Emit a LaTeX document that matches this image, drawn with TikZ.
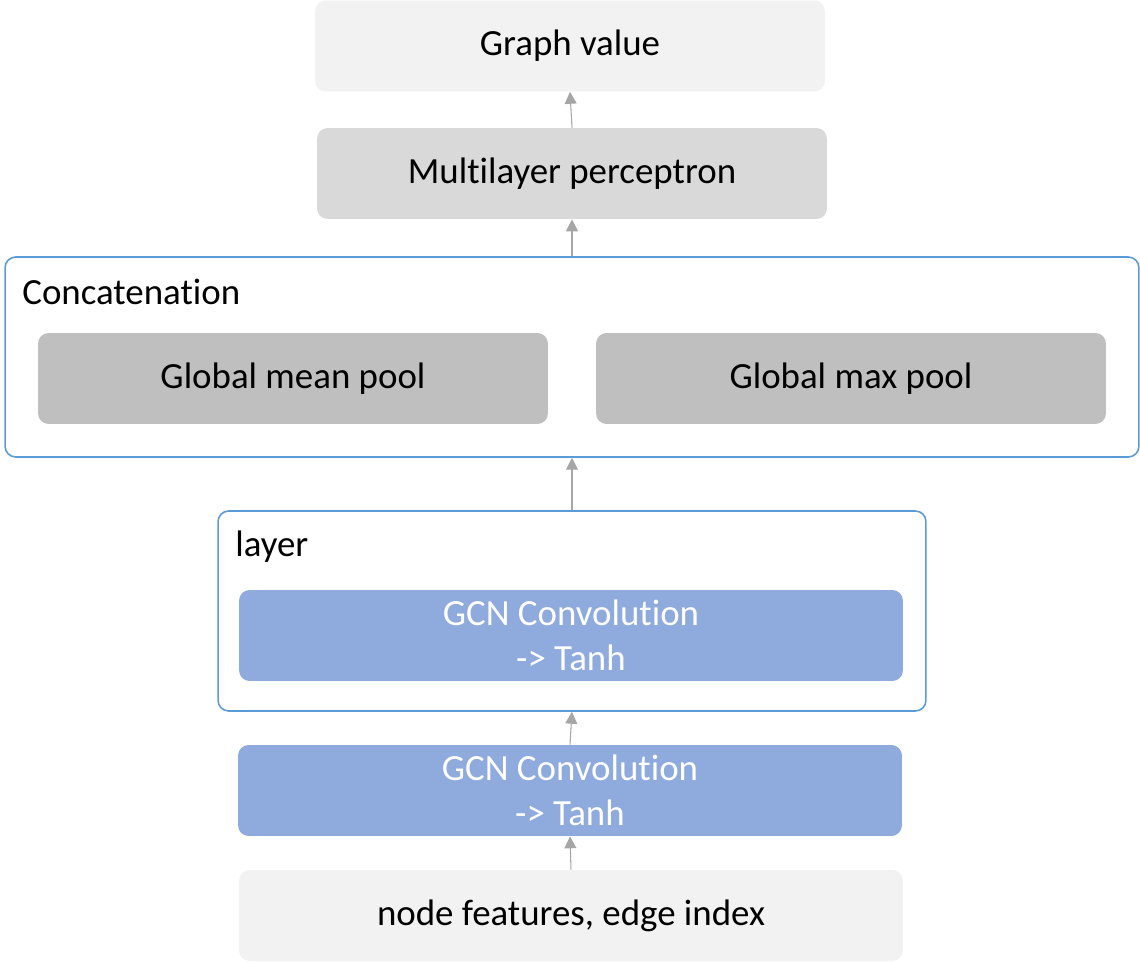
\documentclass[tikz,border=0pt]{standalone}
\usepackage{fontspec}
\setmainfont{Carlito}[Ligatures=NoCommon]
\usetikzlibrary{arrows.meta,positioning,calc}
\definecolor{boxlight}{RGB}{242,242,242}
\definecolor{boxmid}{RGB}{217,217,217}
\definecolor{boxdark}{RGB}{191,191,191}
\definecolor{gcnblue}{RGB}{143,170,220}
\definecolor{frameblue}{RGB}{91,155,213}
\definecolor{arrgray}{RGB}{166,166,166}

\begin{document}
\begin{tikzpicture}[
  x=0.02cm, y=-0.02cm,
  every node/.style={font=\fontsize{21}{25.5}\selectfont},
  blk/.style={rounded corners=6pt, minimum width=10.2cm, minimum height=1.82cm, align=center, inner sep=0pt},
  wide/.style={blk, minimum width=13.28cm},
  frame/.style={rounded corners=6pt, draw=frameblue, line width=0.9pt, fill=white, inner sep=0pt},
  framelbl/.style={anchor=west, inner sep=0pt},
  arr/.style={-{Triangle[length=6.8pt, width=6.8pt]}, arrgray, line width=0.6pt},
]
\useasboundingbox (0,0) rectangle (1140,962);
% top outputs
\node[blk, fill=boxlight] (gval) at (570, 46) {Graph value};
\node[blk, fill=boxmid] (mlp) at (572, 173.5) {Multilayer perceptron};
% pooling
\node[frame, minimum width=22.68cm, minimum height=4cm] (concat) at (572, 357) {};
\node[framelbl] (concatlbl) at (22, 292) {Concatenation};
\node[blk, fill=boxdark] (meanpool) at (293, 378.5) {Global mean pool};
\node[blk, fill=boxdark] (maxpool) at (851, 378.5) {Global max pool};
% convolutions
\node[frame, minimum width=14.16cm, minimum height=4cm] (layer) at (572, 611) {};
\node[framelbl] (layerlbl) at (235, 547) {layer};
\node[wide, fill=gcnblue, text=white] (gcnA) at (571, 635.5) {GCN Convolution\\-> Tanh};
\node[wide, fill=gcnblue, text=white] (gcnB) at (570, 790.5) {GCN Convolution\\-> Tanh};
% input
\node[wide, fill=boxlight] (input) at (571, 915.5) {node features, edge index};
\draw[arr] (input.north) -- (gcnB.south);
\draw[arr] (gcnB.north) -- (layer.south);
\draw[arr] (layer.north) -- (concat.south);
\draw[arr] (concat.north) -- (mlp.south);
\draw[arr] (mlp.north) -- (gval.south);
\end{tikzpicture}
\end{document}
